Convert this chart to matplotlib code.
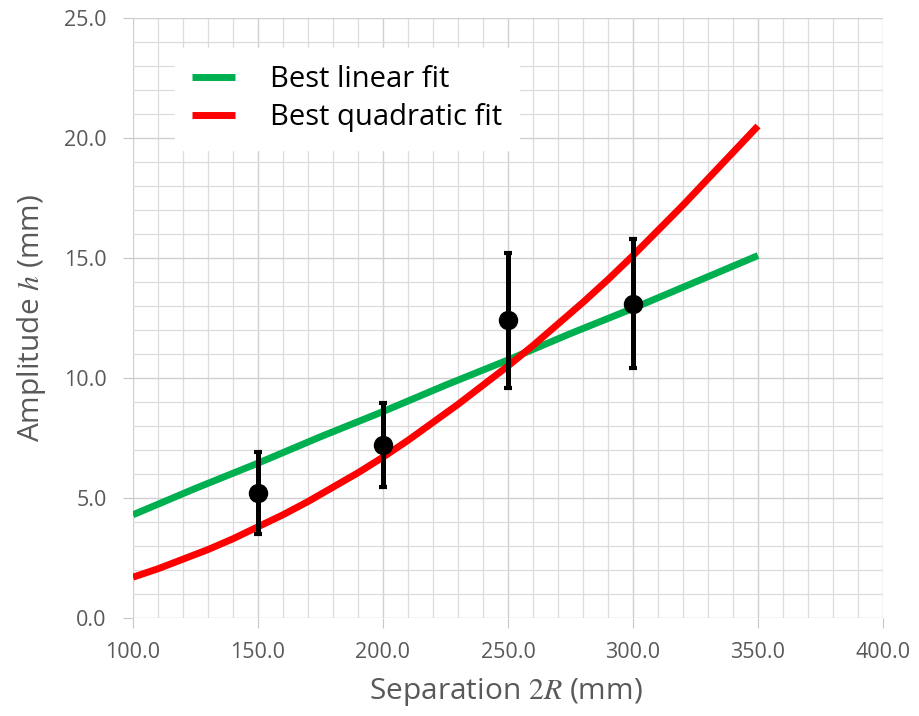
import matplotlib
matplotlib.use("Agg")
import matplotlib.pyplot as plt
from matplotlib.ticker import MultipleLocator, FormatStrFormatter

plt.rcParams['font.family'] = ['Open Sans', 'DejaVu Sans']
plt.rcParams['mathtext.fontset'] = 'stix'

# Measured data
sep = [150, 200, 250, 300]
amp = [5.2, 7.2, 12.4, 13.1]
err = [1.7, 1.75, 2.8, 2.7]

# Fit curves
lin_x = [100, 125, 150, 175, 200, 225, 250, 275, 300, 325, 350]
lin_y = [4.3, 5.4, 6.45, 7.55, 8.6, 9.7, 10.75, 11.85, 12.9, 14.0, 15.1]
quad_x = [100, 110, 120, 130, 140, 150, 160, 170, 180, 190, 200, 210, 220,
          230, 240, 250, 260, 270, 280, 290, 300, 310, 320, 330, 340, 350]
quad_y = [1.70, 2.05, 2.45, 2.85, 3.3, 3.8, 4.3, 4.85, 5.45, 6.05, 6.7, 7.4, 8.15,
          8.9, 9.7, 10.5, 11.35, 12.25, 13.15, 14.1, 15.1, 16.15, 17.2, 18.3, 19.4, 20.5]

gray = '#595959'
fig = plt.figure(figsize=(9.19, 7.16), dpi=100)
ax = fig.add_axes([0.1447, 0.1369, 0.8161, 0.8380])

ax.plot(lin_x, lin_y, color='#00B050', lw=5, solid_capstyle='butt', label='Best linear fit', zorder=3)
ax.plot(quad_x, quad_y, color='#FF0000', lw=5, solid_capstyle='butt', label='Best quadratic fit', zorder=3)
ax.errorbar(sep, amp, yerr=err, fmt='o', color='black', ms=13, elinewidth=3.6,
            capsize=3, capthick=3, zorder=4)

ax.set_xlim(100, 400)
ax.set_ylim(0, 25)
ax.xaxis.set_major_locator(MultipleLocator(50))
ax.xaxis.set_minor_locator(MultipleLocator(10))
ax.yaxis.set_major_locator(MultipleLocator(5))
ax.yaxis.set_minor_locator(MultipleLocator(1))
ax.xaxis.set_major_formatter(FormatStrFormatter('%.1f'))
ax.yaxis.set_major_formatter(FormatStrFormatter('%.1f'))
ax.grid(which='major', color='#d0d0d0', lw=1.0)
ax.grid(which='minor', color='#dcdcdc', lw=0.9)
ax.set_axisbelow(True)
for s in ax.spines.values():
    s.set_visible(False)
ax.tick_params(which='major', length=7, color='#c8c8c8', labelcolor=gray, labelsize=15.5)
ax.tick_params(axis='x', which='major', pad=10)
ax.tick_params(axis='y', which='major', pad=12)
ax.tick_params(which='minor', length=0)

ax.set_xlabel('Separation $2R$ (mm)', color=gray, fontsize=21.5)
ax.set_ylabel('Amplitude $h$ (mm)', color=gray, fontsize=21.5)
ax.xaxis.set_label_coords(0.497, -0.097)
ax.yaxis.set_label_coords(-0.113, 0.5)

leg = ax.legend(loc='upper left', bbox_to_anchor=(0.056, 0.95), frameon=True, fontsize=21,
                handlelength=1.45, handletextpad=1.2, labelspacing=0.3, borderpad=0.6,
                borderaxespad=0, fancybox=False)
leg.get_frame().set_edgecolor('white')
leg.get_frame().set_facecolor('white')
leg.get_frame().set_alpha(1)

fig.savefig('out.png', dpi=100)
